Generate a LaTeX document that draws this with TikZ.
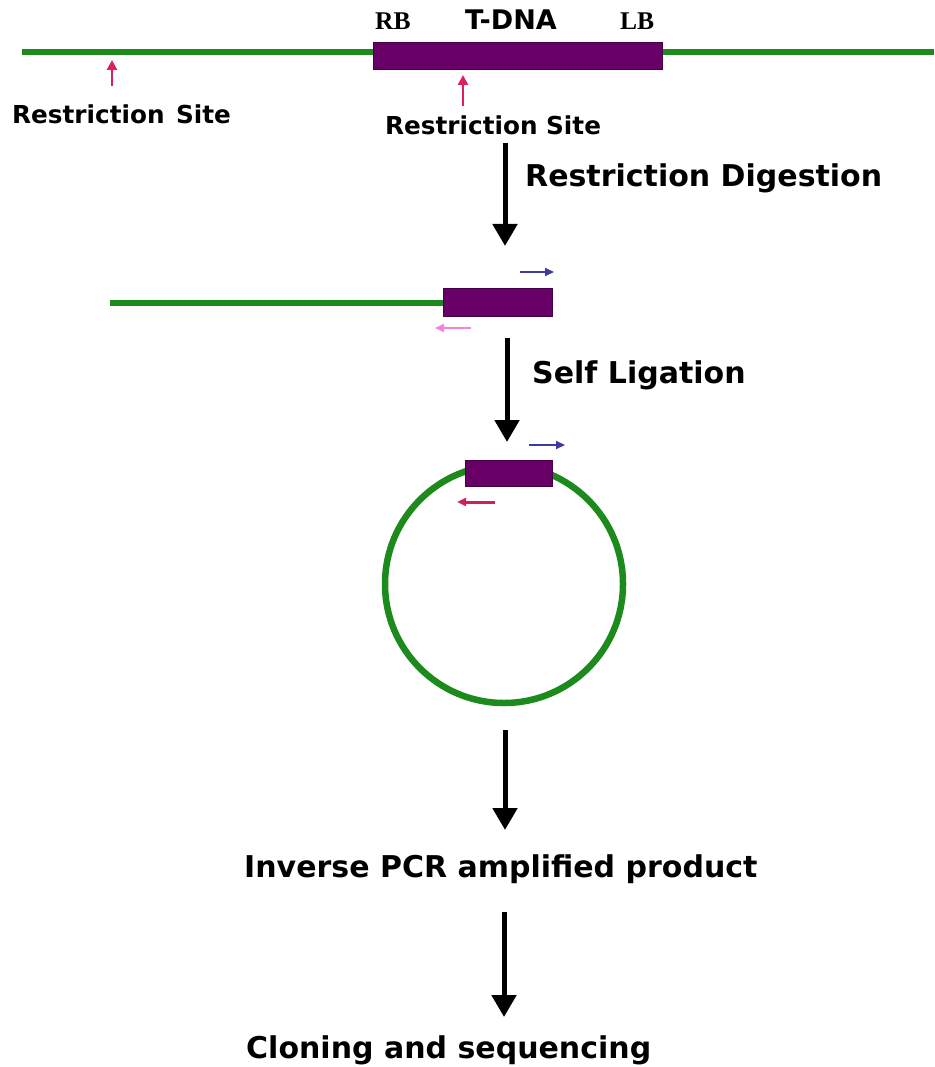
\documentclass[tikz,border=0pt]{standalone}
\usepackage{fontspec}
\setmainfont{DejaVu Sans}
\newfontfamily\serifbold{Liberation Serif}
\usetikzlibrary{arrows.meta}
\definecolor{dnagreen}{RGB}{28,138,28}
\definecolor{tdna}{RGB}{104,0,104}
\definecolor{tdnaedge}{RGB}{70,0,70}
\definecolor{sitepink}{RGB}{222,30,100}
\definecolor{primerblue}{RGB}{60,60,160}
\definecolor{primerpink}{RGB}{240,130,225}
\definecolor{primerred}{RGB}{210,30,90}
\tikzset{
  dnaline/.style={draw=dnagreen, line width=6pt},
  tdnabox/.style={fill=tdna, draw=tdnaedge, line width=1pt},
  sitearrow/.style={draw=sitepink, line width=2.6pt, -{Triangle[width=10pt,length=10pt]}},
  steparrow/.style={draw=black, line width=5pt, -{Triangle[width=24pt,length=22pt]}},
  primer/.style={line width=2pt, -{Triangle[width=8pt,length=9pt]}},
  steplabel/.style={anchor=base west, inner sep=0pt, font=\fontsize{30}{34}\selectfont\bfseries},
  sitelabel/.style={anchor=base west, inner sep=0pt, font=\fontsize{24.7}{28}\selectfont\bfseries},
  borderlabel/.style={anchor=base west, inner sep=0pt, font=\fontsize{25.5}{28}\selectfont\serifbold\bfseries},
}
\begin{document}
\begin{tikzpicture}[x=1pt, y=-1pt]
\useasboundingbox (0,0) rectangle (934,1067);
\fill[white] (0,0) rectangle (934,1067);

% genomic DNA with T-DNA insert
\coordinate (g1) at (22,52);
\coordinate (g2) at (934,52);
\draw[dnaline] (g1) -- (g2);
\node[tdnabox, minimum width=289pt, minimum height=27pt, inner sep=0pt, anchor=north west] (tdna) at (373,42) {};
\node[borderlabel] (rb) at (375,30) {RB};
\node[steplabel, font=\fontsize{27}{30}\selectfont\bfseries] (tname) at (465,30) {T-DNA};
\node[borderlabel] (lb) at (620,30) {LB};

% restriction sites
\node[sitelabel] (site1) at (12,124) {Restriction\hspace{3pt} Site};
\node[sitelabel] (site2) at (385,135) {Restriction Site};
\coordinate (s1a) at (112,86);
\coordinate (s1b) at (112,60);
\coordinate (s2a) at (463,106);
\coordinate (s2b) at (463,75);
\draw[sitearrow] (s1a) -- (s1b);
\draw[sitearrow] (s2a) -- (s2b);

% restriction digestion
\coordinate (a1s) at (505,143);
\coordinate (a1e) at (505,246);
\draw[steparrow] (a1s) -- (a1e);
\node[steplabel] (dig) at (525,187) {Restriction Digestion};

% digested fragment
\node[tdnabox, minimum width=109pt, minimum height=28pt, inner sep=0pt, anchor=north west] (frag) at (443,288) {};
\coordinate (f1) at (110,302);
\draw[dnaline] (f1 |- frag.west) -- (frag.west);
\coordinate (p1a) at (520,272);
\coordinate (p1b) at (554,272);
\coordinate (p2a) at (471,328);
\coordinate (p2b) at (435,328);
\draw[primer, primerblue] (p1a) -- (p1b);
\draw[primer, primerpink] (p2a) -- (p2b);

% self ligation
\coordinate (a2s) at (507,338);
\coordinate (a2e) at (507,442);
\draw[steparrow] (a2s) -- (a2e);
\node[steplabel] (lig) at (532,383) {Self Ligation};

% circularised fragment
\node[circle, draw=dnagreen, line width=6.5pt, minimum size=238pt, inner sep=0pt] (ring) at (504,584) {};
\node[tdnabox, minimum width=87pt, minimum height=26pt, inner sep=0pt, anchor=north west] (cbox) at (465,460) {};
\coordinate (p3a) at (529,445);
\coordinate (p3b) at (565,445);
\coordinate (p4a) at (495,502);
\coordinate (p4b) at (457,502);
\draw[primer, primerblue] (p3a) -- (p3b);
\draw[primer, primerred, line width=3pt] (p4a) -- (p4b);

% inverse PCR
\coordinate (a3s) at (505,730);
\coordinate (a3e) at (505,830);
\draw[steparrow] (a3s) -- (a3e);
\node[steplabel] (pcr) at (244,877) {Inverse PCR amplified product};

% cloning and sequencing
\coordinate (a4s) at (504,912);
\coordinate (a4e) at (504,1017);
\draw[steparrow] (a4s) -- (a4e);
\node[steplabel] (seq) at (246,1058) {Cloning and sequencing};
\end{tikzpicture}
\end{document}
